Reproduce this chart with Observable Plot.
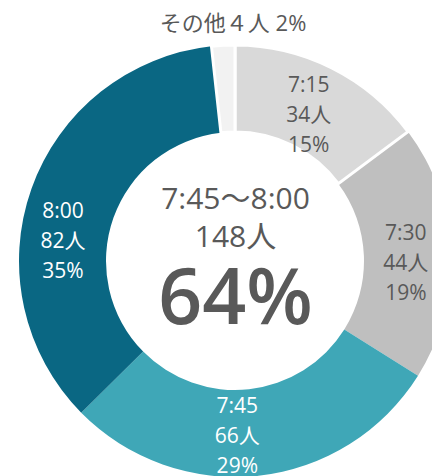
<!DOCTYPE html>
<html>
<head>
<meta charset="utf-8">
<script src="https://cdn.jsdelivr.net/npm/d3@7"></script>
<script src="https://cdn.jsdelivr.net/npm/@observablehq/plot@0.6"></script>
<style>
  html, body { margin: 0; padding: 0; background: #fff; }
  svg { display: block; }
</style>
</head>
<body>
<div id="chart"></div>
<script>
// ---- data ----
const times = ["7:15", "7:30", "7:45", "8:00", "その他"];
const counts = [34, 44, 66, 82, 4];
const percents = [15, 19, 29, 35, 2];
const highlight = ["7:45", "8:00"];
const colors = ["#d9d9d9", "#bfbfbf", "#3fa7b7", "#0a6783", "#f2f2f2"];
const textColors = ["#595959", "#595959", "#ffffff", "#ffffff", "#595959"];
const separated = ["7:15", "その他"];

// ---- layout ----
const W = 432, H = 476;
const CX = 235, CY = 261, R_OUT = 216, R_IN = 129;
const FONT = "'Open Sans', 'Noto Sans CJK JP', sans-serif";
// label nudges from slice centroid (px, right / down)
const nudge = {"7:15": [-4, 45], "7:30": [-2, 46], "7:45": [-17, 40], "8:00": [-10, 74], "その他": [7, -58]};

const toFull = (n) => String(n).replace(/[0-9]/g, (c) => String.fromCharCode(c.charCodeAt(0) + 0xFEE0));

const rows = times.map((t, i) => ({
  time: t, count: counts[i], pct: percents[i], color: colors[i], tcolor: textColors[i],
  gap: separated.includes(t)
}));
const arcs = d3.pie().sort(null).value((d) => d.count)(rows);
const rMid = (R_IN / R_OUT + 1) / 2;
const labels = arcs.map((a) => {
  const mid = (a.startAngle + a.endAngle) / 2;
  const [nx, ny] = nudge[a.data.time];
  const other = a.data.time === "その他";
  return {
    x: rMid * Math.sin(mid) + nx / R_OUT,
    y: rMid * Math.cos(mid) - ny / R_OUT,
    text: other ? `${a.data.time}${toFull(a.data.count)}人 ${a.data.pct}%` : `${a.data.time}\n${a.data.count}人\n${a.data.pct}%`,
    fill: a.data.tcolor,
    other
  };
});

const hiRows = rows.filter((d) => highlight.includes(d.time));
const hiCount = d3.sum(hiRows, (d) => d.count);
const hiPct = Math.round(hiCount / d3.sum(counts) * 100);
const center = [{x: 0, y: 0}];

function donut(index, scales) {
  const cx = scales.x(0), cy = scales.y(0);
  const r = scales.x(1) - scales.x(0);
  const arcGen = d3.arc().innerRadius(r * R_IN / R_OUT).outerRadius(r);
  const g = d3.create("svg:g").attr("transform", `translate(${cx},${cy})`);
  const order = arcs.slice().sort((a, b) => (a.data.gap ? 1 : 0) - (b.data.gap ? 1 : 0));
  g.selectAll("path").data(order).join("path")
    .attr("d", arcGen)
    .attr("fill", (d) => d.data.color)
    .attr("stroke", (d) => d.data.gap ? "#fff" : "none")
    .attr("stroke-width", 3)
    .attr("stroke-linejoin", "miter");
  return g.node();
}

const chart = Plot.plot({
  width: W,
  height: H,
  margin: 0,
  style: {fontFamily: FONT, background: "#fff"},
  x: {domain: [-CX / R_OUT, (W - CX) / R_OUT], range: [0, W], axis: null},
  y: {domain: [-(H - CY) / R_OUT, CY / R_OUT], range: [H, 0], axis: null},
  marks: [
    donut,
    Plot.text(labels.filter((d) => !d.other), {
      x: "x", y: "y", text: "text", fill: "fill",
      fontSize: 21, lineHeight: 1.43, lineAnchor: "bottom", textAnchor: "middle"
    }),
    Plot.text(labels.filter((d) => d.other), {
      x: "x", y: "y", text: "text", fill: "fill",
      fontSize: 22, lineAnchor: "bottom", textAnchor: "middle"
    }),
    Plot.text(center, {x: "x", y: "y", text: () => `${highlight[0]}～${highlight[1]}`,
      fill: "#595959", fontSize: 30, lineAnchor: "bottom", dy: -53}),
    Plot.text(center, {x: "x", y: "y", text: () => `${hiCount}人`,
      fill: "#595959", fontSize: 30, lineAnchor: "bottom", dy: -15}),
    Plot.text(center, {x: "x", y: "y", text: () => `${hiPct}%`,
      fill: "#595959", fontSize: 77, fontWeight: 600, lineAnchor: "bottom", dy: 62})
  ]
});
document.getElementById("chart").appendChild(chart);
</script>
</body>
</html>
